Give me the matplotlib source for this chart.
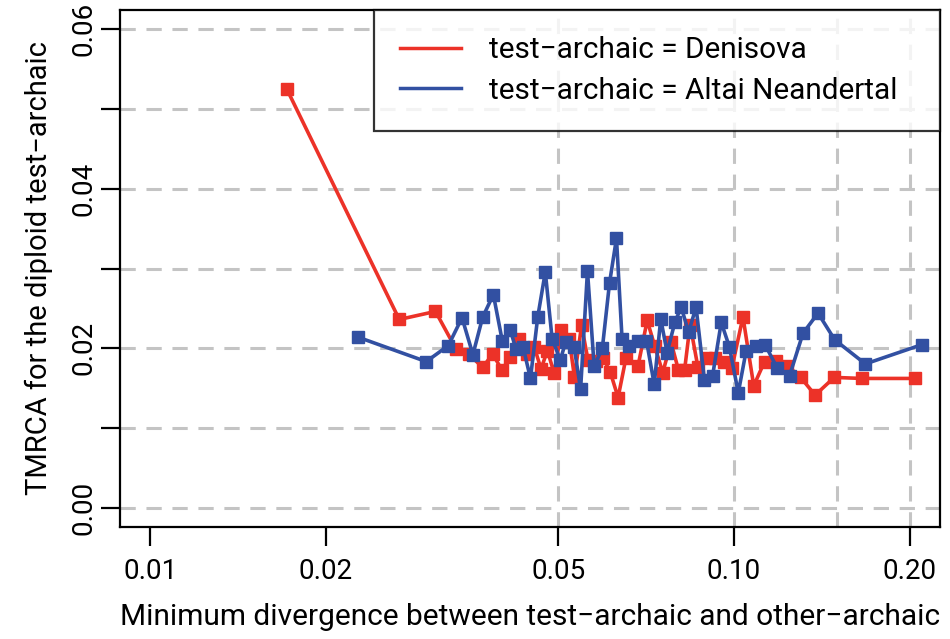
import matplotlib
matplotlib.use("Agg")
import matplotlib.pyplot as plt
from matplotlib.ticker import FixedLocator, NullFormatter, NullLocator

plt.rcParams['font.family'] = ['Roboto', 'DejaVu Sans']

# Denisova series
den_x = [0.01714, 0.0267, 0.0308, 0.0334, 0.0351, 0.0371, 0.0386, 0.0400, 0.0414, 0.0429,
         0.0442, 0.0455, 0.0467, 0.0479, 0.0492, 0.0506, 0.0522, 0.0533, 0.0548, 0.0562,
         0.0581, 0.0597, 0.0614, 0.0633, 0.0653, 0.0685, 0.0710, 0.0731, 0.0755, 0.0780,
         0.0803, 0.0823, 0.0841, 0.0867, 0.0897, 0.0929, 0.0960, 0.0992, 0.1036, 0.1081,
         0.1128, 0.1178, 0.1234, 0.1301, 0.1377, 0.1485, 0.1656, 0.2046]
den_y = [0.05246, 0.02361, 0.02462, 0.01990, 0.01927, 0.01761, 0.01929, 0.01732, 0.01887, 0.02118,
         0.01933, 0.02013, 0.01741, 0.01971, 0.01685, 0.02223, 0.02118, 0.01635, 0.02286, 0.01858,
         0.01845, 0.01877, 0.01698, 0.01383, 0.01879, 0.01782, 0.02349, 0.02034, 0.01694, 0.02076,
         0.01732, 0.01732, 0.02298, 0.01770, 0.01883, 0.01877, 0.01833, 0.01757, 0.02393, 0.01530,
         0.01833, 0.01845, 0.01782, 0.01635, 0.01413, 0.01635, 0.01622, 0.01622]

# Altai Neandertal series
alt_x = [0.0227, 0.0297, 0.0324, 0.0342, 0.0357, 0.0371, 0.0387, 0.0401, 0.0414, 0.0423,
         0.0435, 0.0448, 0.0461, 0.0475, 0.0488, 0.0504, 0.0515, 0.0532, 0.0546, 0.0561,
         0.0576, 0.0595, 0.0612, 0.0629, 0.0643, 0.0662, 0.0684, 0.0708, 0.0730, 0.0749,
         0.0768, 0.0792, 0.0812, 0.0836, 0.0861, 0.0890, 0.0919, 0.0951, 0.0982, 0.1017,
         0.1049, 0.1090, 0.1132, 0.1186, 0.1245, 0.1313, 0.1393, 0.1488, 0.1679, 0.2101]
alt_y = [0.02139, 0.01833, 0.02034, 0.02383, 0.01921, 0.02390, 0.02673, 0.02088, 0.02223, 0.01992,
         0.02021, 0.01622, 0.02390, 0.02957, 0.02118, 0.01854, 0.02084, 0.02021, 0.01489, 0.02970,
         0.01773, 0.02005, 0.02819, 0.03378, 0.02118, 0.02034, 0.02097, 0.02097, 0.01547, 0.02370,
         0.01946, 0.02327, 0.02516, 0.02202, 0.02516, 0.01597, 0.01656, 0.02324, 0.02018, 0.01442,
         0.01967, 0.02025, 0.02038, 0.01751, 0.01656, 0.02189, 0.02441, 0.02106, 0.01804, 0.02047]

x_ticks = [0.01, 0.02, 0.05, 0.10, 0.20]
x_tick_labels = ["0.01", "0.02", "0.05", "0.10", "0.20"]
x_grid = [0.05, 0.10, 0.15, 0.20]
y_major = [0.00, 0.02, 0.04, 0.06]
y_major_labels = ["0.00", "0.02", "0.04", "0.06"]
y_minor = [0.01, 0.03, 0.05]
y_grid = [0.00, 0.01, 0.02, 0.03, 0.04, 0.05, 0.06]

label_den = "test\u2212archaic = Denisova"
label_alt = "test\u2212archaic = Altai Neandertal"
xlabel = "Minimum divergence between test\u2212archaic and other\u2212archaic"
ylabel = "TMRCA for the diploid test\u2212archaic"

red = "#EC3228"
blue = "#3250A2"
grid_c = "#C4C4C4"

fig = plt.figure(figsize=(9.5, 6.39), dpi=100)
ax = fig.add_axes([120/950, 1-527/639, 820/950, 517/639])

ax.set_xscale('log')
ax.set_xlim(0.008872, 0.2254)
ax.set_ylim(-0.0024, 0.0624)

for gy in y_grid:
    ax.axhline(gy, color=grid_c, lw=2.2, ls=(0, (5, 3.5)), zorder=1)
for gx in x_grid:
    ax.axvline(gx, color=grid_c, lw=2.2, ls=(0, (5, 3.5)), zorder=1)

ax.plot(den_x, den_y, color=red, lw=2.6, marker='s', ms=9.2, mec=red, mfc=red,
        label=label_den, zorder=3)
ax.plot(alt_x, alt_y, color=blue, lw=2.6, marker='s', ms=9.2, mec=blue, mfc=blue,
        label=label_alt, zorder=3)

ax.xaxis.set_major_locator(FixedLocator(x_ticks))
ax.xaxis.set_minor_locator(NullLocator())
ax.set_xticklabels(x_tick_labels)
ax.xaxis.set_minor_formatter(NullFormatter())
ax.yaxis.set_major_locator(FixedLocator(y_major))
ax.set_yticklabels(y_major_labels, rotation=90, va='center')
ax.yaxis.set_minor_locator(FixedLocator(y_minor))

ax.tick_params(axis='both', which='both', length=13.5, width=1.6, direction='out',
               labelsize=20)
ax.tick_params(axis='x', pad=9)
ax.tick_params(axis='y', pad=2.5)
for s in ax.spines.values():
    s.set_linewidth(1.6)

ax.set_xlabel(xlabel, fontsize=21.5, labelpad=13)
ax.set_ylabel(ylabel, fontsize=21, labelpad=13)

leg = ax.legend(loc='upper right', bbox_to_anchor=(254/820, 0.0, 566/820, 1.0),
                mode='expand', fontsize=21.4, frameon=True, fancybox=False,
                borderaxespad=0, handlelength=2.05, handletextpad=0.94,
                borderpad=0.88, labelspacing=0.42, markerscale=0)
leg.get_frame().set_edgecolor('black')
leg.get_frame().set_linewidth(1.6)
for h in leg.get_lines():
    h.set_marker('')
    h.set_linewidth(2.5)
leg.set_zorder(5)

fig.savefig("out.png", dpi=100)
